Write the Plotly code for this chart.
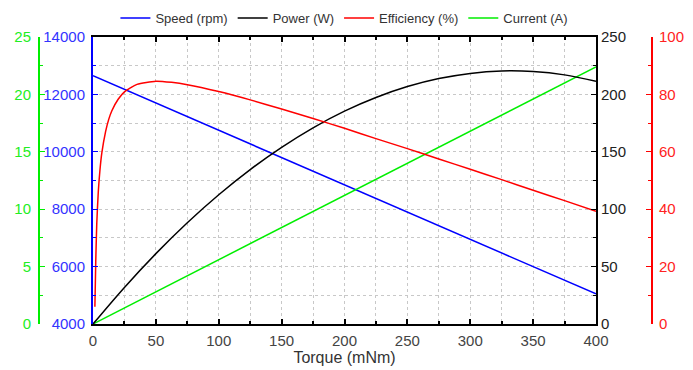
import plotly.graph_objects as go

torque = [0, 25, 50, 75, 100, 125, 150, 175, 200, 225, 250, 275, 300, 325, 350, 375, 400]
speed_rpm = [12650, 12175, 11700, 11225, 10750, 10275, 9800, 9325, 8850, 8375, 7900, 7425, 6950, 6475, 6000, 5525, 5050]
power_w = [0, 31.9, 61.3, 88.2, 112.6, 134.5, 153.9, 170.9, 185.4, 197.3, 206.8, 213.8, 218.3, 220.4, 219.9, 217.0, 211.5]
current_a = [0, 1.4, 2.8, 4.2, 5.6, 7.0, 8.4, 9.8, 11.2, 12.6, 14.0, 15.4, 16.8, 18.2, 19.6, 21.0, 22.4]
eff_torque = [1.5, 2.2, 3.0, 4.2, 5.5, 7, 10, 12.5, 15, 20, 25, 35, 50, 62.5, 75, 100, 125, 150, 175, 200, 225, 250, 275, 300, 325, 350, 375, 400]
efficiency = [6.0, 22.0, 35.0, 46.0, 53.5, 59.5, 67.0, 71.3, 74.3, 78.3, 80.9, 83.5, 84.6, 84.2, 83.4, 81.0, 78.1, 74.9, 71.6, 68.2, 64.6, 61.1, 57.5, 53.9, 50.3, 46.6, 43.0, 39.3]

FONT = "Liberation Sans, Arial, sans-serif"
W, H = 693, 370
x0, x1 = 93 / W, 596 / W
y0, y1 = (H - 324) / H, (H - 37) / H

fig = go.Figure()
fig.add_trace(go.Scatter(x=torque, y=speed_rpm, name="Speed (rpm)", mode="lines",
                         line=dict(color="#0000ff", width=1.5), yaxis="y"))
fig.add_trace(go.Scatter(x=torque, y=power_w, name="Power (W)", mode="lines",
                         line=dict(color="#000000", width=1.5, shape="spline"), yaxis="y3"))
fig.add_trace(go.Scatter(x=eff_torque, y=efficiency, name="Efficiency (%)", mode="lines",
                         line=dict(color="#ff0000", width=1.5, shape="spline", smoothing=0.6), yaxis="y4"))
fig.add_trace(go.Scatter(x=torque, y=current_a, name="Current (A)", mode="lines",
                         line=dict(color="#00ee00", width=1.5), yaxis="y2"))

grid = dict(showgrid=True, gridcolor="#c8c8c8", gridwidth=1, griddash="dot")

fig.update_layout(
    width=W, height=H,
    margin=dict(l=0, r=0, t=0, b=0, autoexpand=False),
    paper_bgcolor="white", plot_bgcolor="white",
    font=dict(family=FONT, size=14, color="#333333"),
    showlegend=True,
    legend=dict(orientation="h", x=0.497, xanchor="center", y=1 - 18 / H, yanchor="middle",
                font=dict(size=13, color="#333333"), bgcolor="rgba(0,0,0,0)",
                itemwidth=30, tracegroupgap=0),
    xaxis=dict(domain=[x0, x1], range=[0, 400], dtick=50, tick0=0, automargin=False,
               showline=True, linecolor="#000000", linewidth=2, mirror="ticks",
               ticks="inside", ticklen=5, tickcolor="#000000", tickwidth=1.5,
               tickfont=dict(size=15, color="#444444"), ticklabelstandoff=2,
               title=dict(text="Torque (mNm)", font=dict(size=16, color="#333333"), standoff=0),
               zeroline=False,
               minor=dict(dtick=25, ticks="inside", ticklen=3, tickcolor="#000000", **grid),
               **grid),
    yaxis=dict(domain=[y0, y1], range=[4000, 14000], dtick=2000, tick0=4000, automargin=False,
               side="left", anchor="x", tickformat="d",
               showline=True, linecolor="#0000ff", linewidth=2,
               ticks="inside", ticklen=5, tickcolor="#0000ff",
               tickfont=dict(size=15, color="#3333ff"), ticklabelstandoff=3,
               zeroline=False,
               minor=dict(dtick=1000, ticks="inside", ticklen=3, tickcolor="#0000ff", **grid),
               **grid),
    yaxis2=dict(overlaying="y", range=[0, 25], dtick=5, tick0=0, automargin=False,
                side="left", anchor="free", position=39 / W,
                showline=True, linecolor="#00ee00", linewidth=2,
                ticks="inside", ticklen=5, tickcolor="#00ee00",
                tickfont=dict(size=15, color="#22ee22"), ticklabelstandoff=4,
                showgrid=False, zeroline=False,
                minor=dict(dtick=2.5, ticks="inside", ticklen=3, tickcolor="#00ee00", showgrid=False)),
    yaxis3=dict(overlaying="y", range=[0, 250], dtick=50, tick0=0, automargin=False,
                side="right", anchor="x",
                showline=True, linecolor="#000000", linewidth=2,
                ticks="inside", ticklen=5, tickcolor="#000000",
                tickfont=dict(size=15, color="#222222"),
                showgrid=False, zeroline=False,
                minor=dict(dtick=25, ticks="inside", ticklen=3, tickcolor="#000000", showgrid=False)),
    yaxis4=dict(overlaying="y", range=[0, 100], dtick=20, tick0=0, automargin=False,
                side="right", anchor="free", position=652 / W,
                showline=True, linecolor="#ff0000", linewidth=2,
                ticks="inside", ticklen=5, tickcolor="#ff0000",
                tickfont=dict(size=15, color="#ff2222"), ticklabelstandoff=3,
                showgrid=False, zeroline=False,
                minor=dict(dtick=10, ticks="inside", ticklen=3, tickcolor="#ff0000", showgrid=False)),
)

fig.write_html("out.html", config={"displayModeBar": False},
               post_script="document.body.style.margin='0';document.body.style.overflow='hidden';")
